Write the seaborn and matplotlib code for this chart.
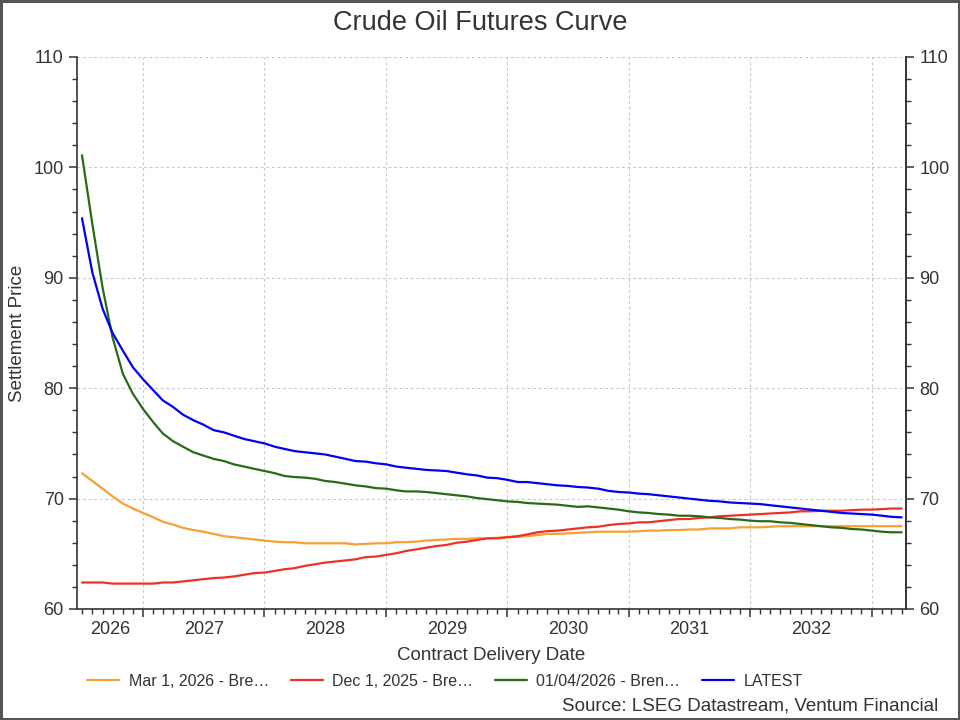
import numpy as np
import pandas as pd
import matplotlib
matplotlib.use("Agg")
import matplotlib.pyplot as plt
import matplotlib.dates as mdates
from matplotlib.ticker import MultipleLocator
import seaborn as sns

# ---------------- data ----------------
start_month = "2026-07-01"
n_months = 82

mar_2026 = [72.3, 71.6, 70.9, 70.2, 69.55, 69.1, 68.7, 68.3, 67.9, 67.65,
            67.35, 67.15, 67.0, 66.8, 66.6, 66.5, 66.4, 66.3, 66.2, 66.1,
            66.05, 66.05, 65.95, 65.95, 65.95, 65.95, 65.95, 65.85, 65.9, 65.95,
            65.95, 66.05, 66.05, 66.1, 66.2, 66.25, 66.3, 66.35, 66.35, 66.4,
            66.4, 66.45, 66.5, 66.55, 66.6, 66.7, 66.8, 66.8, 66.85, 66.9,
            66.95, 67.0, 67.0, 67.0, 67.0, 67.05, 67.1, 67.1, 67.15, 67.15,
            67.2, 67.2, 67.3, 67.3, 67.3, 67.4, 67.4, 67.4, 67.45, 67.5,
            67.5, 67.5, 67.5, 67.5, 67.5, 67.5, 67.5, 67.5, 67.5, 67.5,
            67.5, 67.5]

dec_2025 = [62.4, 62.4, 62.4, 62.3, 62.3, 62.3, 62.3, 62.3, 62.4, 62.4,
            62.5, 62.6, 62.7, 62.8, 62.85, 62.95, 63.1, 63.25, 63.3, 63.45,
            63.6, 63.7, 63.9, 64.05, 64.2, 64.3, 64.4, 64.5, 64.7, 64.75,
            64.9, 65.05, 65.25, 65.4, 65.55, 65.7, 65.8, 66.0, 66.1, 66.25,
            66.4, 66.4, 66.5, 66.6, 66.75, 66.95, 67.05, 67.1, 67.2, 67.3,
            67.4, 67.45, 67.6, 67.7, 67.75, 67.85, 67.85, 67.95, 68.05, 68.15,
            68.15, 68.25, 68.3, 68.4, 68.45, 68.5, 68.55, 68.6, 68.65, 68.7,
            68.75, 68.85, 68.85, 68.9, 68.9, 68.9, 68.95, 69.0, 69.0, 69.05,
            69.1, 69.1]

apr_2026 = [101.1, 94.9, 89.1, 84.6, 81.3, 79.5, 78.1, 76.9, 75.9, 75.2,
            74.7, 74.2, 73.9, 73.6, 73.4, 73.1, 72.9, 72.7, 72.5, 72.3,
            72.05, 71.95, 71.9, 71.8, 71.6, 71.5, 71.35, 71.2, 71.1, 70.95,
            70.9, 70.75, 70.65, 70.65, 70.6, 70.5, 70.4, 70.3, 70.2, 70.05,
            69.95, 69.85, 69.75, 69.7, 69.6, 69.55, 69.5, 69.45, 69.35, 69.25,
            69.3, 69.2, 69.1, 69.0, 68.85, 68.75, 68.7, 68.6, 68.55, 68.45,
            68.45, 68.4, 68.3, 68.25, 68.15, 68.1, 68.0, 67.95, 67.95, 67.85,
            67.8, 67.7, 67.6, 67.5, 67.4, 67.35, 67.25, 67.2, 67.1, 67.0,
            66.95, 66.95]

latest = [95.4, 90.5, 87.2, 85.0, 83.4, 81.9, 80.8, 79.8, 78.9, 78.3,
          77.6, 77.1, 76.7, 76.2, 76.0, 75.7, 75.4, 75.2, 75.0, 74.7,
          74.5, 74.3, 74.2, 74.1, 74.0, 73.8, 73.6, 73.4, 73.35, 73.2,
          73.1, 72.9, 72.8, 72.7, 72.6, 72.55, 72.5, 72.35, 72.2, 72.1,
          71.9, 71.85, 71.7, 71.5, 71.5, 71.4, 71.3, 71.2, 71.15, 71.05,
          71.0, 70.9, 70.7, 70.6, 70.55, 70.45, 70.4, 70.3, 70.2, 70.1,
          70.0, 69.9, 69.8, 69.75, 69.65, 69.6, 69.55, 69.5, 69.4, 69.3,
          69.2, 69.1, 69.0, 68.9, 68.8, 68.7, 68.65, 68.6, 68.55, 68.45,
          68.35, 68.3]

series_names = ["Mar 1, 2026 - Bre\u2026", "Dec 1, 2025 - Bre\u2026",
                "01/04/2026 - Bren\u2026", "LATEST"]
series_values = [mar_2026, dec_2025, apr_2026, latest]
series_colors = ["#F5A133", "#EE3124", "#2A6A17", "#0000F5"]
year_labels = ["2026", "2027", "2028", "2029", "2030", "2031", "2032"]

dates = pd.date_range(start_month, periods=n_months, freq="MS")
frames = []
for name, vals in zip(series_names, series_values):
    frames.append(pd.DataFrame({"date": dates, "price": vals, "series": name}))
df = pd.concat(frames, ignore_index=True)

# ---------------- style ----------------
sns.set_theme(style="white")
plt.rcParams["font.family"] = ["Liberation Sans", "DejaVu Sans"]
text_col = "#333333"

fig = plt.figure(figsize=(9.6, 7.2), dpi=100, facecolor="white",
                 edgecolor="#555555", linewidth=2.5)
ax = fig.add_axes([77 / 960, 1 - 609 / 720, (906 - 77) / 960, (609 - 57) / 720])

sns.lineplot(data=df, x="date", y="price", hue="series",
             hue_order=series_names, palette=series_colors,
             linewidth=1.6, ax=ax, legend=True, sort=False)

xmin = pd.Timestamp("2026-06-16")
xmax = pd.Timestamp("2033-04-14")
ax.set_xlim(xmin, xmax)
ax.set_ylim(60, 110)

# ticks
ax.xaxis.set_major_locator(mdates.YearLocator())
ax.xaxis.set_minor_locator(mdates.MonthLocator())
ax.xaxis.set_major_formatter(plt.NullFormatter())
ax.yaxis.set_major_locator(MultipleLocator(10))
ax.yaxis.set_minor_locator(MultipleLocator(2))
ax.tick_params(axis="both", which="major", direction="out", length=6, width=1.1,
               color=text_col, labelsize=13, labelcolor=text_col)
ax.tick_params(axis="both", which="minor", direction="out", length=3.5, width=1.0,
               color=text_col)
ax.tick_params(axis="x", which="both", bottom=True)
ax.tick_params(axis="y", which="both", left=True)

ax.grid(True, which="major", color="#c8c8c8", linestyle=(0, (2.5, 2.5)), linewidth=0.8)

for side in ["left", "right", "bottom"]:
    ax.spines[side].set_visible(True)
    ax.spines[side].set_color(text_col)
    ax.spines[side].set_linewidth(1.2)
ax.spines["top"].set_visible(False)

# year labels centred in the visible span of each year
year_starts = [pd.Timestamp(f"{y}-01-01") for y in range(2026, 2034)]
label_pos = []
for i, y in enumerate(year_labels):
    a = max(year_starts[i], xmin)
    b = min(year_starts[i + 1], xmax)
    label_pos.append(mdates.date2num(a) + (mdates.date2num(b) - mdates.date2num(a)) / 2)
sec = ax.secondary_xaxis("bottom")
sec.set_xticks(label_pos, year_labels)
sec.tick_params(axis="x", length=0, pad=9, labelsize=13, labelcolor=text_col)
sec.spines["bottom"].set_visible(False)

# right-hand duplicate axis
ax2 = ax.twinx()
ax2.set_ylim(60, 110)
ax2.yaxis.set_major_locator(MultipleLocator(10))
ax2.yaxis.set_minor_locator(MultipleLocator(2))
ax2.tick_params(axis="y", which="major", direction="out", length=6, width=1.1,
                color=text_col, labelsize=13, labelcolor=text_col, right=True)
ax2.tick_params(axis="y", which="minor", direction="out", length=3.5, width=1.0,
                color=text_col, right=True)
for side in ["left", "top", "bottom"]:
    ax2.spines[side].set_visible(False)
ax2.spines["right"].set_color(text_col)
ax2.spines["right"].set_linewidth(1.2)

ax.set_xlabel("Contract Delivery Date", fontsize=13.5, color=text_col)
ax.set_ylabel("Settlement Price", fontsize=13.5, color=text_col)
ax.xaxis.set_label_coords(0.5, -0.068)
ax.yaxis.set_label_coords(-0.062, 0.5)

fig.text(0.5, 1 - 23 / 720, "Crude Oil Futures Curve", ha="center", va="center",
         fontsize=19.5, color=text_col)

# legend
handles, labels = ax.get_legend_handles_labels()
ax.get_legend().remove()
fig.legend(handles, labels, loc="center", bbox_to_anchor=(445 / 960, 1 - 681 / 720),
           ncol=4, frameon=False, fontsize=11.5, handlelength=2.0,
           handletextpad=0.6, columnspacing=1.35, labelcolor=text_col)

fig.text(938 / 960, 1 - 706 / 720, "Source: LSEG Datastream, Ventum Financial",
         ha="right", va="center", fontsize=13.5, color=text_col)

fig.savefig("out.png", dpi=100, facecolor="white", edgecolor="#555555")
